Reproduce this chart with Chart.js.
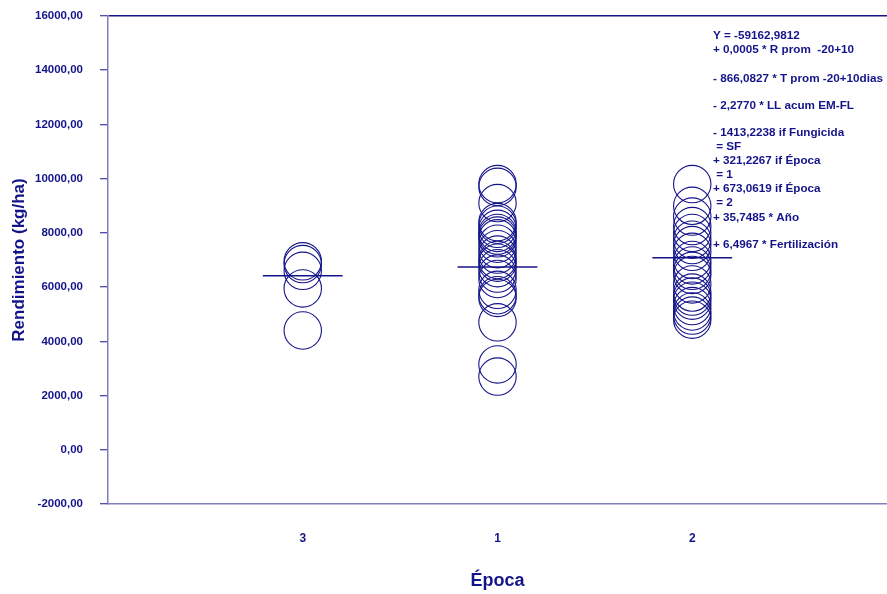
<!DOCTYPE html>
<html>
<head>
<meta charset="utf-8">
<script src="https://cdn.jsdelivr.net/npm/chart.js@4/dist/chart.umd.min.js"></script>
<style>
html,body{margin:0;padding:0;background:#fff;}
#wrap{width:887px;height:594px;}
</style>
</head>
<body>
<div id="wrap"><canvas id="c" width="887" height="594"></canvas></div>
<script>
// Category order on the x axis and their labels
const categories = ["3", "1", "2"];
// Observed yields (kg/ha) by Época
const epoca3 = [6950, 6850, 6600, 5950, 4400];
const epoca1 = [9800, 9700, 9100, 8400, 8300, 8150, 8000, 7900, 7800, 7600, 7400, 7200, 7000, 6900, 6700, 6500, 6300, 5900, 5700, 5600, 4700, 3150, 2700];
const epoca2 = [9800, 9000, 8600, 8250, 8000, 7750, 7550, 7300, 7000, 6800, 6600, 6450, 6100, 5800, 5650, 5500, 5300, 5100, 4950, 4800];
// Fitted means per category
const means = [6420, 6740, 7080];
// Y tick values
const yTicks = [-2000, 0, 2000, 4000, 6000, 8000, 10000, 12000, 14000, 16000];
// Model equation text
const equationLines = [
  "Y = -59162,9812",
  "+ 0,0005 * R prom  -20+10",
  "- 866,0827 * T prom -20+10dias",
  "- 2,2770 * LL acum EM-FL",
  "- 1413,2238 if Fungicida",
  " = SF",
  "+ 321,2267 if Época",
  " = 1",
  "+ 673,0619 if Época",
  " = 2",
  "+ 35,7485 * Año",
  "+ 6,4967 * Fertilización"
];
const equationY = [36, 50, 79, 106, 133, 147, 161, 175, 189, 203, 218, 245];

const NAVY = '#14148a';
const FONT = "'Liberation Sans', Arial, sans-serif";

function pts(arr, xpos){ return arr.map(v => ({x: xpos, y: v})); }
function meanLine(i){ const xp = i + 1; return [{x: xp - 0.205, y: means[i]}, {x: xp + 0.205, y: means[i]}]; }

const circleDs = (data) => ({
  type: 'scatter', data, pointStyle: 'circle', pointRadius: 18.7, pointHoverRadius: 18.7,
  borderColor: NAVY, backgroundColor: 'rgba(0,0,0,0)', borderWidth: 1.1, showLine: false
});
const lineDs = (data) => ({
  type: 'line', data, borderColor: NAVY, borderWidth: 1.5, pointRadius: 0, fill: false, tension: 0
});

const eqPlugin = {
  id: 'eq',
  afterDraw(chart){
    const ctx = chart.ctx;
    ctx.save();
    ctx.fillStyle = NAVY;
    ctx.font = "bold 11.7px " + FONT;
    ctx.textBaseline = 'middle';
    ctx.textAlign = 'left';
    equationLines.forEach((l, i) => ctx.fillText(l, 713, equationY[i]));
    ctx.restore();
  }
};

new Chart(document.getElementById('c'), {
  type: 'scatter',
  data: {
    datasets: [
      circleDs(pts(epoca3, 1)),
      circleDs(pts(epoca1, 2)),
      circleDs(pts(epoca2, 3)),
      lineDs(meanLine(0)),
      lineDs(meanLine(1)),
      lineDs(meanLine(2))
    ]
  },
  options: {
    responsive: false,
    animation: false,
    layout: { autoPadding: false, padding: { top: 16, right: 0, left: 0, bottom: 0 } },
    plugins: { legend: { display: false }, tooltip: { enabled: false } },
    scales: {
      x: {
        type: 'linear', min: 0, max: 4,
        afterBuildTicks: (s) => { s.ticks = [1, 2, 3].map(v => ({value: v})); },
        afterFit: (s) => { s.height = 90; s.paddingLeft = 0; s.paddingRight = 0; s.paddingTop = 0; s.paddingBottom = 0; },
        grid: { display: false, drawTicks: false },
        border: { display: true, color: '#7f7fbf', width: 1.5 },
        ticks: {
          padding: 27, color: NAVY, font: { family: FONT, size: 12, weight: 'bold' },
          callback: (v) => categories[v - 1]
        },
        title: { display: true, text: 'Época', color: NAVY, font: { family: FONT, size: 18, weight: 'bold' }, padding: { top: 0, bottom: 2 } }
      },
      y: {
        min: -2000, max: 16000,
        afterBuildTicks: (s) => { s.ticks = yTicks.map(v => ({value: v})); },
        afterFit: (s) => { s.width = 108; s.paddingLeft = 0; s.paddingRight = 0; s.paddingTop = 0; s.paddingBottom = 0; },
        grid: {
          drawOnChartArea: true, tickLength: 8,
          color: (c) => (c.tick && c.tick.value === 16000) ? NAVY : 'rgba(0,0,0,0)',
          lineWidth: 1.5,
          tickColor: NAVY, tickWidth: 1
        },
        border: { display: true, color: '#7f7fbf', width: 1.5 },
        ticks: {
          padding: 17, color: NAVY, font: { family: FONT, size: 11.5, weight: 'bold' },
          callback: (v) => v.toFixed(2).replace('.', ',')
        },
        title: { display: true, text: 'Rendimiento (kg/ha)', color: NAVY, font: { family: FONT, size: 17, weight: 'bold' }, padding: { top: 9, bottom: 4 } }
      }
    }
  },
  plugins: [eqPlugin]
});
</script>
</body>
</html>
